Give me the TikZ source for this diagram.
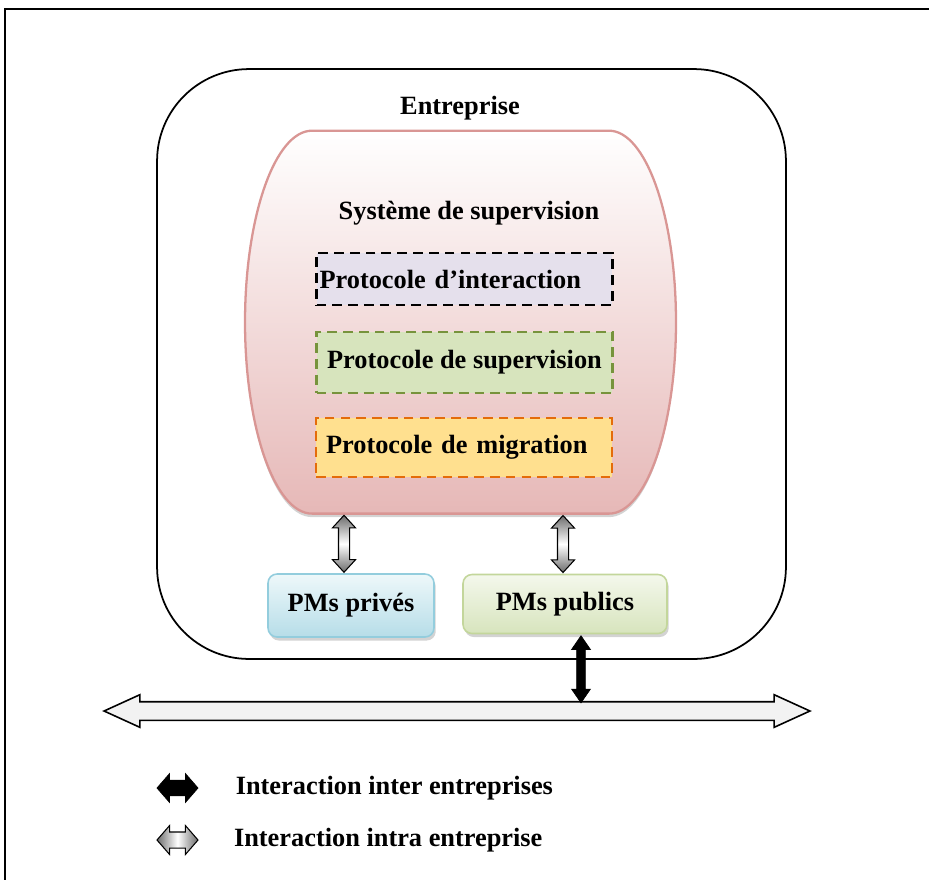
\documentclass[tikz,border=0pt]{standalone}
\usepackage{fontspec}
\setmainfont{Liberation Serif}
\usepackage{tikz}
\usetikzlibrary{arrows.meta, positioning, calc, shapes.arrows, shadows}
\usepackage{xcolor}

\definecolor{rosebord}{HTML}{D99694}
\definecolor{rosefond}{HTML}{E6B8B7}
\definecolor{lavande}{HTML}{E5E0EC}
\definecolor{vertbord}{HTML}{77933C}
\definecolor{vertfond}{HTML}{D7E4BD}
\definecolor{vertclair}{HTML}{C3D69B}
\definecolor{verthaut}{HTML}{F4F8EC}
\definecolor{orangebord}{HTML}{E46C0A}
\definecolor{jaunefond}{HTML}{FFE08F}
\definecolor{bleubord}{HTML}{93CDDD}
\definecolor{bleuhaut}{HTML}{EEF8FA}
\definecolor{bleubas}{HTML}{B6DDE8}
\definecolor{grisclair}{HTML}{F2F2F2}

\begin{document}
\begin{tikzpicture}[
		x=0.02cm, y=-0.02cm, % un pixel de l'image
		font=\bfseries\fontsize{15}{18}\selectfont,
		% --- Styles ---
		cadre/.style={
			line width=1.1pt
		},
		entreprise_boite/.style={
			draw, 
			rectangle, 
			rounded corners=1.84cm, 
			minimum width=12.58cm, 
			minimum height=11.8cm, 
			line width=1pt
		},
		titre/.style={
			inner sep=0pt
		},
		systeme_forme/.style={
			draw=rosebord, 
			line width=1.3pt, 
			top color=white, 
			bottom color=rosefond,
			drop shadow={shadow xshift=0pt, shadow yshift=-2pt, opacity=0.35}
		},
		protocole/.style={
			rectangle, 
			minimum width=5.92cm, 
			inner xsep=0.06cm, 
			line width=1.25pt, 
			dash pattern=on 5.5pt off 3.5pt
		},
		pm/.style={
			rectangle, 
			rounded corners=0.18cm, 
			line width=0.9pt,
			drop shadow={shadow xshift=1pt, shadow yshift=-2pt, opacity=0.35}
		},
		% Flèches épaisses à double pointe (demi-largeur du fût = inner ysep)
		fleche_intra/.style={
			double arrow, 
			draw, 
			line width=0.6pt, 
			inner xsep=0pt, 
			inner ysep=0.1cm,
			double arrow head extend=0.12cm, 
			double arrow tip angle=85,
			top color=gray!85!black, 
			bottom color=gray!85!black, 
			middle color=white
		},
		fleche_inter/.style={
			double arrow, 
			draw, 
			fill=black, 
			inner xsep=0pt
		},
		bus_forme/.style={
			double arrow, 
			draw, 
			fill=grisclair, 
			line width=0.9pt, 
			inner xsep=0pt, 
			inner ysep=0.17cm,
			double arrow head extend=0.14cm, 
			double arrow tip angle=49
		}
		]
		\useasboundingbox (0,0) rectangle (929,883);
		
		% 1. Cadre de la page
		\draw[cadre] (929,9) -- (5,9) -- (5,880);
		
		% 2. Entreprise
		\node[entreprise_boite] (entreprise) at (471.5,364) {};
		\node[titre] (entreprise_titre) at (460,108) {Entreprise};
		
		% 3. Système de supervision (côtés en demi-ellipses)
		\node[minimum width=8.62cm, minimum height=7.66cm, inner sep=0pt] (systeme) at (460.5,322.5) {};
		\path[systeme_forme] (systeme.north) ++(148.5,0)
		arc[start angle=90, end angle=-90, x radius=1.34cm, y radius=3.83cm]
		-- ++(-297,0)
		arc[start angle=270, end angle=90, x radius=1.34cm, y radius=3.83cm]
		-- cycle;
		\node[titre] (systeme_titre) at (469,213) {Système de supervision};
		
		% 4. Protocoles
		\node[protocole, draw=black, fill=lavande, minimum height=1.04cm, text width=5.8cm, align=left] (interaction) at (464.5,279) {Protocole d’interaction};
		\node[protocole, draw=vertbord, fill=vertfond, minimum height=1.22cm] (supervision) at (464.5,362.5) {Protocole de supervision};
		\node[protocole, draw=orangebord, fill=jaunefond, minimum height=1.18cm, text width=5.52cm, inner xsep=0.2cm, align=left] (migration) at (464,447.5) {Protocole de migration};
		
		% 5. PMs
		\node[pm, draw=bleubord, top color=bleuhaut, bottom color=bleubas, minimum width=3.32cm, minimum height=1.26cm] (prives) at (351,605.5) {PMs privés};
		\node[pm, draw=vertclair, top color=verthaut, bottom color=vertfond, minimum width=4.08cm, minimum height=1.18cm] (publics) at (565,604) {PMs publics};
		
		% 6. Bus entre entreprises
		\node[bus_forme, minimum height=14.12cm] (bus) at (457,711) {};
		
		% 7. Liens
		\coordinate (prives_haut) at ($(prives.north)+(-7,0)$);
		\node[fleche_intra, rotate=90, minimum height=1.14cm] (lien_prives) at ($(prives_haut)!0.5!(prives_haut |- systeme.south)$) {};
		\coordinate (publics_haut) at ($(publics.north)+(-2,0)$);
		\node[fleche_intra, rotate=90, minimum height=1.14cm] (lien_publics) at ($(publics_haut)!0.5!(publics_haut |- systeme.south)$) {};
		\coordinate (publics_bas) at ($(publics.south)+(16,0)$);
		\node[fleche_inter, rotate=90, minimum height=1.34cm, inner ysep=0.08cm, double arrow head extend=0.1cm, double arrow tip angle=69] (lien_bus) at ($(publics_bas)+(0,35)$) {};
		
		% 8. Légende
		\node[fleche_inter, minimum height=0.82cm, inner ysep=0.15cm, double arrow head extend=0.13cm, double arrow tip angle=98] (leg_inter_fleche) at (177.5,788) {};
		\node[titre, right=0.74cm of leg_inter_fleche] (leg_inter) {Interaction inter entreprises};
		\node[fleche_intra, minimum height=0.82cm, inner ysep=0.15cm, double arrow head extend=0.13cm, double arrow tip angle=98, left color=gray!85!black, right color=gray!85!black, middle color=white] (leg_intra_fleche) at (177.5,840) {};
		\node[titre, right=0.7cm of leg_intra_fleche] (leg_intra) {Interaction intra entreprise};
		
	\end{tikzpicture}
\end{document}
